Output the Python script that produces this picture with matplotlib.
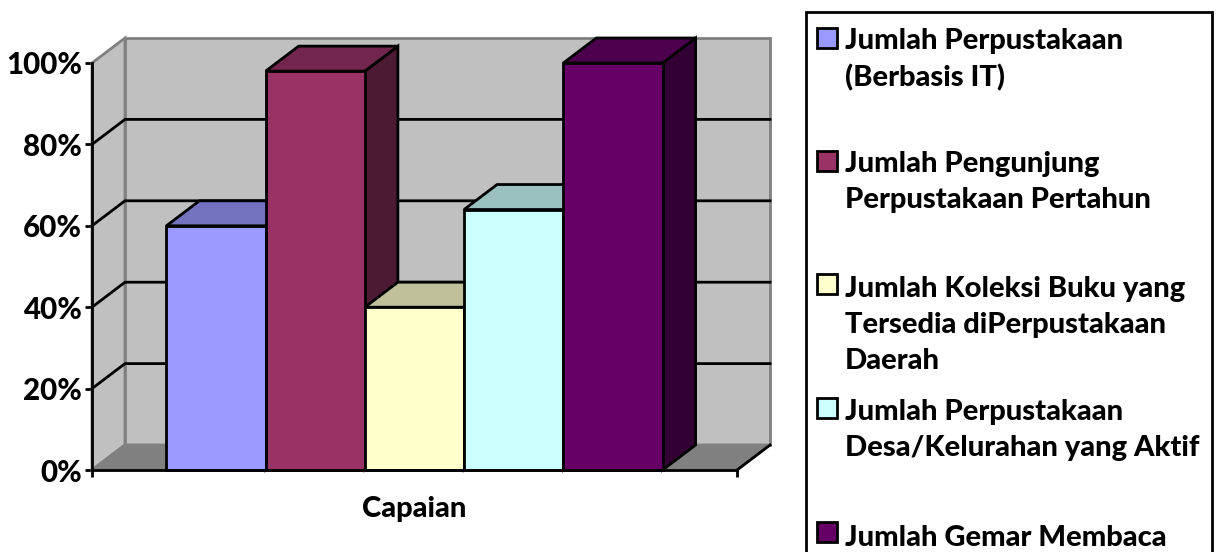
import matplotlib
matplotlib.use("Agg")
from matplotlib import pyplot as plt
from matplotlib.patches import Polygon, Rectangle

category = "Capaian"
series_names = [
    "Jumlah Perpustakaan\n(Berbasis IT)",
    "Jumlah Pengunjung\nPerpustakaan Pertahun",
    "Jumlah Koleksi Buku yang\nTersedia diPerpustakaan\nDaerah",
    "Jumlah Perpustakaan\nDesa/Kelurahan yang Aktif",
    "Jumlah Gemar Membaca",
]
series_values = [60, 98, 40, 64, 100]
y_ticks = [0, 20, 40, 60, 80, 100]
y_labels = ["0%", "20%", "40%", "60%", "80%", "100%"]

front = ["#9999FF", "#993366", "#FFFFCC", "#CCFFFF", "#660066"]
top = ["#7373C0", "#73264D", "#C0C09A", "#9AC0C0", "#4D004D"]
side = ["#4D4D80", "#4D1A33", "#808066", "#668080", "#330033"]

W, H = 1221, 552
FONT = "Lato"
FS = 21
LW = 2

fig = plt.figure(figsize=(W / 100, H / 100), dpi=100)
ax = fig.add_axes([92 / W, 1 - 470 / H, 645 / W, 407 / H])
ax.set_xlim(0, 1)
ax.set_ylim(0, 100)
ax.patch.set_visible(False)

# depth of the fake 3d box, in data units
dx = 33 / 645
dy = 25 / 407 * 100


def poly(points, color, edge, lw=LW, z=2):
    ax.add_patch(Polygon(points, closed=True, facecolor=color, edgecolor=edge,
                         linewidth=lw, clip_on=False, zorder=z, joinstyle="miter"))


# walls and floor
poly([(0, 0), (dx, dy), (dx, 100 + dy), (0, 100)], "#C0C0C0", "#808080")
poly([(dx, dy), (1 + dx, dy), (1 + dx, 100 + dy), (dx, 100 + dy)], "#C0C0C0", "#808080")
poly([(0, 0), (1, 0), (1 + dx, dy), (dx, dy)], "#808080", "#808080")

# gridlines run along both walls
for t in y_ticks[1:-1]:
    ax.plot([0, dx, 1 + dx], [t, t + dy, t + dy], color="black", lw=LW,
            clip_on=False, zorder=2.5, solid_joinstyle="miter")
ax.plot([1, 1 + dx], [0, dy], color="black", lw=LW, clip_on=False, zorder=2.5)

# bars, left to right so the later ones cover the sides of the earlier ones
bar_w = 1 / (len(series_values) + 1.5)
for i, v in enumerate(series_values):
    x0 = 0.75 * bar_w + i * bar_w
    x1 = x0 + bar_w
    z = 3 + i
    poly([(x1, 0), (x1 + dx, dy), (x1 + dx, v + dy), (x1, v)], side[i], "black", z=z)
    poly([(x0, v), (x1, v), (x1 + dx, v + dy), (x0 + dx, v + dy)], top[i], "black", z=z)
    poly([(x0, 0), (x1, 0), (x1, v), (x0, v)], front[i], "black", z=z)

for s in ["top", "right"]:
    ax.spines[s].set_visible(False)
for s in ["left", "bottom"]:
    ax.spines[s].set_linewidth(LW)
    ax.spines[s].set_zorder(10)

ax.set_yticks(y_ticks)
ax.set_yticklabels(y_labels, fontfamily=FONT, fontweight="black", fontsize=FS + 0.3)
ax.set_xticks([0, 1])
ax.set_xticklabels(["", ""])
ax.tick_params(axis="both", length=5, width=LW, pad=2)
ax.text(0.5, -9.6, category, ha="center", va="center", fontfamily=FONT,
        fontweight="black", fontsize=FS, zorder=11)

# legend is laid out by hand because its rows are unevenly spaced
lg = fig.add_axes([0, 0, 1, 1], zorder=20)
lg.set_xlim(0, W)
lg.set_ylim(H, 0)
lg.axis("off")
lg.add_patch(Rectangle((806, 12), 406, 560, facecolor="white", edgecolor="black", linewidth=LW))
swatch_y = [38, 161, 284, 408, 532]
text_y = [28, 151, 276, 399, 525]
for name, color, sy, ty in zip(series_names, front, swatch_y, text_y):
    lg.add_patch(Rectangle((817, sy - 10), 20, 20, facecolor=color, edgecolor="black", linewidth=LW))
    lg.text(845, ty, name, va="top", ha="left", fontfamily=FONT, fontweight="black",
            fontsize=FS, linespacing=1.47)

fig.savefig("out.png", dpi=100)
